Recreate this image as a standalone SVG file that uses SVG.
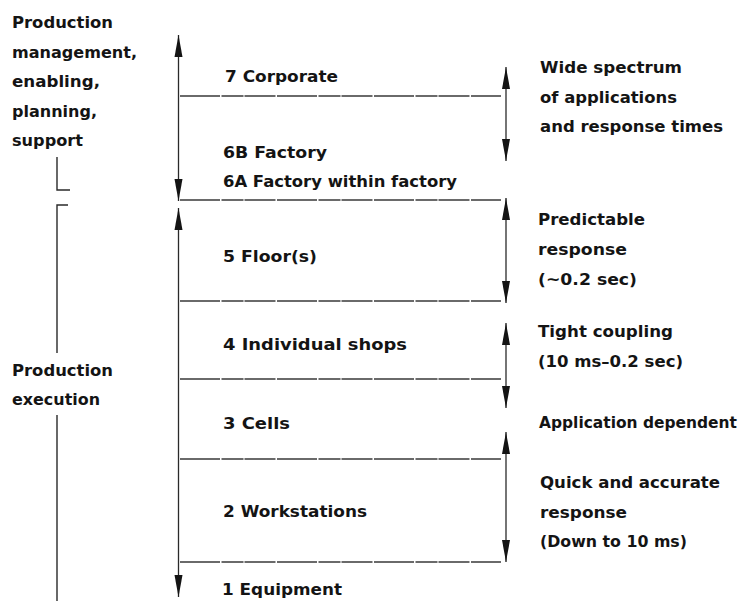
<svg xmlns="http://www.w3.org/2000/svg" width="749" height="601" viewBox="0 0 749 601">
  <style>
    text { font-family: "DejaVu Sans", "Liberation Sans", Arial, sans-serif; font-weight: bold; font-size: 16.5px; fill: #141414; }
    .rule { stroke: #3a3a3a; stroke-width: 1.3; fill: none; stroke-dasharray: 40 1.5 22 1 31 1.5; }
    .shaft { stroke: #2a2a2a; stroke-width: 1.3; fill: none; marker-start: url(#head); marker-end: url(#head); }
    .bracket { stroke: #2a2a2a; stroke-width: 1.4; fill: none; }
  </style>
  <defs>
    <marker id="head" viewBox="0 0 22 9" refX="22" refY="4.5" markerWidth="22" markerHeight="9" markerUnits="userSpaceOnUse" orient="auto-start-reverse">
      <path d="M0,0.5 L22,4.5 L0,8.5 Z" fill="#141414"/>
    </marker>
  </defs>

  <rect width="749" height="601" fill="#ffffff"/>

  <!-- left-hand grouping labels -->
  <g id="group-management">
    <text x="12" y="28" textLength="101" lengthAdjust="spacingAndGlyphs">Production</text>
    <text x="12" y="58" textLength="125" lengthAdjust="spacingAndGlyphs">management,</text>
    <text x="12" y="87" textLength="88" lengthAdjust="spacingAndGlyphs">enabling,</text>
    <text x="12" y="117" textLength="85" lengthAdjust="spacingAndGlyphs">planning,</text>
    <text x="12" y="146" textLength="71" lengthAdjust="spacingAndGlyphs">support</text>
    <path class="bracket" d="M57,157 V190 H70"/>
  </g>
  <g id="group-execution">
    <path class="bracket" d="M68,205 H57 V353 M57,415 V601"/>
    <text x="12" y="376" textLength="101" lengthAdjust="spacingAndGlyphs">Production</text>
    <text x="12" y="405" textLength="88" lengthAdjust="spacingAndGlyphs">execution</text>
  </g>

  <!-- hierarchy levels -->
  <g id="level-7"><text x="225" y="82" textLength="113" lengthAdjust="spacingAndGlyphs">7  Corporate</text></g>
  <g id="level-6">
    <text x="223" y="158" textLength="104" lengthAdjust="spacingAndGlyphs">6B  Factory</text>
    <text x="223" y="187" textLength="234" lengthAdjust="spacingAndGlyphs">6A  Factory within factory</text>
  </g>
  <g id="level-5"><text x="223" y="262" textLength="94" lengthAdjust="spacingAndGlyphs">5  Floor(s)</text></g>
  <g id="level-4"><text x="223" y="350" textLength="184" lengthAdjust="spacingAndGlyphs">4  Individual   shops</text></g>
  <g id="level-3"><text x="223" y="429" textLength="67" lengthAdjust="spacingAndGlyphs">3  Cells</text></g>
  <g id="level-2"><text x="223" y="517" textLength="144" lengthAdjust="spacingAndGlyphs">2  Workstations</text></g>
  <g id="level-1"><text x="222" y="595" textLength="120" lengthAdjust="spacingAndGlyphs">1  Equipment</text></g>

  <!-- response characteristics -->
  <g id="resp-wide">
    <text x="540" y="73" textLength="142" lengthAdjust="spacingAndGlyphs">Wide spectrum</text>
    <text x="540" y="103" textLength="137" lengthAdjust="spacingAndGlyphs">of applications</text>
    <text x="540" y="132" textLength="183" lengthAdjust="spacingAndGlyphs">and response times</text>
  </g>
  <g id="resp-predictable">
    <text x="538" y="225" textLength="107" lengthAdjust="spacingAndGlyphs">Predictable</text>
    <text x="538" y="255" textLength="89" lengthAdjust="spacingAndGlyphs">response</text>
    <text x="538" y="285" textLength="99" lengthAdjust="spacingAndGlyphs">(~0.2 sec)</text>
  </g>
  <g id="resp-tight">
    <text x="538" y="337" textLength="135" lengthAdjust="spacingAndGlyphs">Tight coupling</text>
    <text x="538" y="367" textLength="145" lengthAdjust="spacingAndGlyphs">(10 ms–0.2 sec)</text>
  </g>
  <g id="resp-app">
    <text x="539" y="428" textLength="198" lengthAdjust="spacingAndGlyphs">Application dependent</text>
  </g>
  <g id="resp-quick">
    <text x="540" y="488" textLength="180" lengthAdjust="spacingAndGlyphs">Quick and accurate</text>
    <text x="540" y="518" textLength="87" lengthAdjust="spacingAndGlyphs">response</text>
    <text x="540" y="547" textLength="147" lengthAdjust="spacingAndGlyphs">(Down to 10 ms)</text>
  </g>

  <!-- level boundaries and span arrows -->
  <g id="connectors">
    <line class="rule" x1="180" y1="96" x2="501" y2="96"/>
    <line class="rule" x1="180" y1="200" x2="501" y2="200"/>
    <line class="rule" x1="180" y1="301" x2="501" y2="301"/>
    <line class="rule" x1="180" y1="379" x2="501" y2="379"/>
    <line class="rule" x1="180" y1="459" x2="501" y2="459"/>
    <line class="rule" x1="180" y1="562" x2="501" y2="562"/>

    <line class="shaft" x1="178.5" y1="35" x2="178.5" y2="201"/>
    <line class="shaft" x1="178.5" y1="208" x2="178.5" y2="597"/>

    <line class="shaft" x1="506" y1="67" x2="506" y2="161"/>
    <line class="shaft" x1="506" y1="198" x2="506" y2="303"/>
    <line class="shaft" x1="506" y1="323" x2="506" y2="408"/>
    <line class="shaft" x1="506" y1="432" x2="506" y2="562"/>
  </g>
</svg>
